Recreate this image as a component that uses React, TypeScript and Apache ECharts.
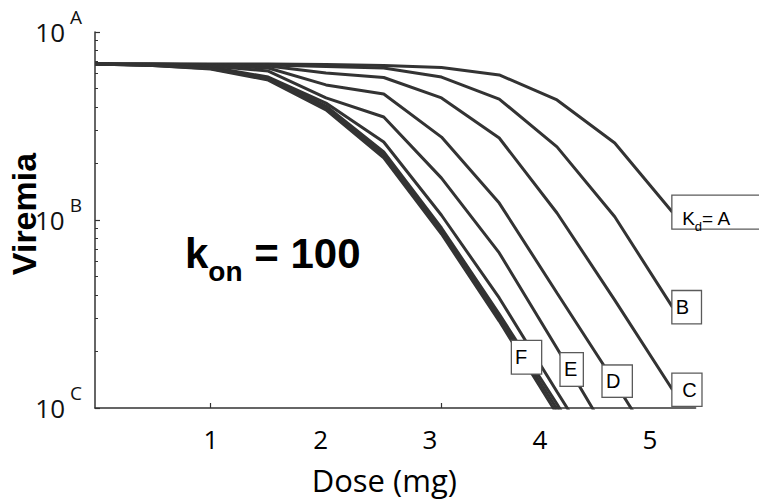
import React, { useEffect, useRef } from 'react';
import * as echarts from 'echarts';

// Dose (mg) sampled every 0.5 mg
const doses = [0, 0.5, 1, 1.5, 2, 2.5, 3, 3.5, 4, 4.5, 5];

// Viremia for each Kd curve (log axis, 10^C = 1, 10^B = 10, 10^A = 100)
const kdA = [67.6, 67.6, 67.6, 67.6, 67.2, 66.4, 64.7, 59.1, 43.5, 25.7, 11.0];
const kdB = [67.6, 67.6, 67.2, 66.8, 65.5, 64.3, 57.6, 44.0, 24.5, 10.4, 3.44];
const kdC = [67.6, 67.6, 66.8, 65.9, 60.5, 57.3, 44.6, 27.3, 10.9, 3.75, 1.25];
const kdD = [67.6, 67.2, 66.4, 64.3, 52.3, 46.8, 27.6, 12.3, 4.09, 1.37, 0.446];
const kdE = [67.6, 67.2, 65.9, 62.0, 44.6, 35.3, 16.7, 6.68, 2.08, 0.628];
const kdF = [67.6, 66.8, 65.1, 57.6, 41.9, 26.0, 10.6, 3.85, 1.22, 0.394];
const kdG = [67.6, 66.8, 64.3, 56.9, 40.4, 23.0, 9.07, 3.16, 1.05, 0.328];
const kdH = [67.6, 66.4, 63.9, 56.2, 39.4, 22.2, 8.74, 3.01, 0.988, 0.309];
const kdI = [67.6, 66.4, 63.6, 55.5, 38.5, 21.4, 8.42, 2.9, 0.929, 0.29];

const curves = [kdA, kdB, kdC, kdD, kdE, kdF, kdG, kdH, kdI];
const curveNames = ['A', 'B', 'C', 'D', 'E', 'F', 'G', 'H', 'I'];

// axis ticks / labels
const xTickValues = [1, 3];
const xLabelValues = [1.004, 1.954, 2.9, 3.853, 4.805];
const xTickLabels = ['1', '2', '3', '4', '5'];
const yTickValues = [1, 10, 100];
const yTickLetters = ['C', 'B', 'A'];

// mid-curve label anchors [dose, viremia]
const midLabelNames = ['D', 'E', 'F'];
const midLabelAnchors = [
  [4.521, 1.389],
  [4.127, 1.603],
  [3.736, 1.863],
];

const LINE = '#333333';
const BOX = '#5a5a5a';
const ARIAL = 'Liberation Sans, Arial, sans-serif';
const SANS = 'Open Sans, sans-serif';

const endPads: Record<string, number[]> = {
  B: [6, 11.7, 6, 3.3],
  C: [6, 4.7, 6, 9.7],
};
const midPads: Record<string, number[]> = {
  D: [5.5, 11.3, 5.5, 3.3],
  E: [6.2, 5.4, 6.2, 3.3],
  F: [6.2, 13.8, 6.2, 3],
};

export default function App() {
  const ref = useRef<HTMLDivElement>(null);
  useEffect(() => {
    document.body.style.margin = '0';
    const chart = echarts.init(ref.current!, null, { renderer: 'svg' });

    const series: any[] = curves.map((vals, ci) => {
      const name = curveNames[ci];
      const s: any = {
        name,
        type: 'line',
        data: vals.map((v, i) => [doses[i], v]),
        showSymbol: false,
        symbol: 'none',
        clip: true,
        lineStyle: { color: LINE, width: 3 },
        z: 2,
      };
      if (name === 'A') {
        s.endLabel = {
          show: true,
          distance: 0,
          formatter: '{t|K}{s|d}{t|= A}{f|}',
          backgroundColor: '#fff',
          borderColor: BOX,
          borderWidth: 1.3,
          padding: [13, 0, 0, 9.7],
          height: 19.7,
          rich: {
            t: { fontSize: 19, fontFamily: ARIAL, color: '#000', lineHeight: 22, verticalAlign: 'top' },
            s: { fontSize: 13, fontFamily: ARIAL, color: '#000', lineHeight: 14, padding: [11, 0, 0, 0], verticalAlign: 'top' },
            f: { width: 60, lineHeight: 22, fontSize: 19 },
          },
        };
      } else if (name === 'B' || name === 'C') {
        s.endLabel = {
          show: true,
          distance: 0,
          formatter: name,
          backgroundColor: '#fff',
          borderColor: BOX,
          borderWidth: 1.3,
          padding: endPads[name],
          fontSize: 20,
          lineHeight: 20,
          fontFamily: ARIAL,
          color: '#000',
        };
      }
      const mi = midLabelNames.indexOf(name);
      if (mi >= 0) {
        s.markPoint = {
          symbol: 'circle',
          symbolSize: 0,
          z: 5,
          data: [{ coord: midLabelAnchors[mi], value: name }],
          label: {
            show: true,
            position: 'inside',
            formatter: name,
            backgroundColor: '#fff',
            borderColor: BOX,
            borderWidth: 1.3,
            padding: midPads[name],
            fontSize: 20,
            lineHeight: 20,
            fontFamily: ARIAL,
            color: '#000',
          },
        };
      }
      return s;
    });

    const option: any = {
      animation: false,
      backgroundColor: '#fff',
      grid: { left: 95, top: 32, right: 63.4, bottom: 94, containLabel: false, outerBoundsMode: 'none' },
      xAxis: {
        type: 'value',
        min: 0,
        max: 5.2,
        name: 'Dose (mg)',
        nameLocation: 'middle',
        nameGap: 56,
        nameMoveOverlap: false,
        nameTextStyle: { fontFamily: SANS, fontSize: 31, color: '#000', padding: [0, 22, 0, 0] },
        axisLine: { show: true, lineStyle: { color: LINE, width: 1.5 } },
        axisTick: { show: true, inside: true, length: 5, customValues: xTickValues, lineStyle: { color: LINE, width: 1.2 } },
        axisLabel: {
          show: true,
          customValues: xLabelValues,
          margin: 18,
          fontFamily: SANS,
          fontSize: 26,
          color: '#000',
          formatter: (v: number) => {
            let best = 0;
            xLabelValues.forEach((p, i) => {
              if (Math.abs(p - v) < Math.abs(xLabelValues[best] - v)) best = i;
            });
            return xTickLabels[best];
          },
        },
        splitLine: { show: false },
      },
      yAxis: {
        type: 'log',
        logBase: 10,
        min: 1,
        max: 100,
        name: 'Viremia',
        nameLocation: 'middle',
        nameGap: 54,
        nameMoveOverlap: false,
        nameRotate: 90,
        nameTextStyle: { fontFamily: ARIAL, fontWeight: 'bold', fontSize: 34, color: '#000', padding: [0, 0, 0, 12] },
        axisLine: { show: true, lineStyle: { color: LINE, width: 1.5 } },
        axisTick: { show: true, inside: true, length: 5, lineStyle: { color: LINE, width: 1.2 } },
        minorTick: { show: true, splitNumber: 9, length: 3, lineStyle: { color: LINE, width: 1 } },
        axisLabel: {
          show: true,
          margin: 13,
          formatter: (v: number) => {
            const i = yTickValues.findIndex((t) => Math.abs(Math.log10(t) - Math.log10(v)) < 1e-6);
            return i >= 0 ? `{b|10}{s|${yTickLetters[i]}}` : '';
          },
          rich: {
            b: { fontFamily: SANS, fontSize: 26, lineHeight: 26, color: '#111', verticalAlign: 'middle' },
            s: { fontFamily: SANS, fontSize: 19, lineHeight: 19, color: '#111', padding: [0, 0, 31, 5], verticalAlign: 'middle' },
          },
        },
        splitLine: { show: false },
        minorSplitLine: { show: false },
      },
      graphic: [
        {
          type: 'text',
          left: 185,
          top: 232,
          z: 10,
          style: {
            text: '{k|k}{o|on}{k| = 100}',
            fill: '#000',
            rich: {
              k: { fontSize: 42, fontWeight: 'bold', fontFamily: ARIAL, lineHeight: 42, verticalAlign: 'top', fill: '#000' },
              o: { fontSize: 28, fontWeight: 'bold', fontFamily: ARIAL, lineHeight: 28, padding: [25, 0, 0, 0], verticalAlign: 'top', fill: '#000' },
            },
          },
        },
      ],
      series,
    };
    chart.setOption(option);
    return () => chart.dispose();
  }, []);
  return <div ref={ref} style={{ position: 'fixed', left: 0, top: 0, width: 759, height: 502 }} />;
}
